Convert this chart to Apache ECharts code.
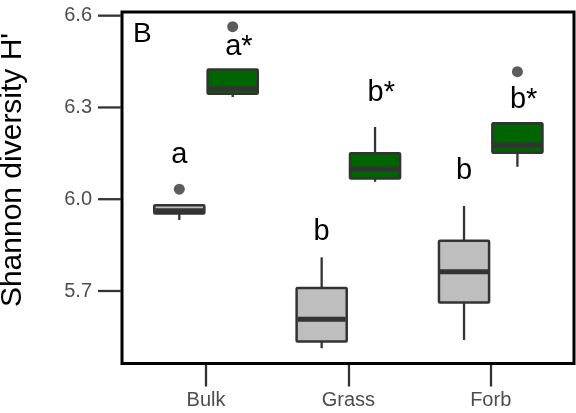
<!DOCTYPE html>
<html>
<head>
<meta charset="utf-8">
<script src="https://cdn.jsdelivr.net/npm/echarts@6/dist/echarts.min.js"></script>
<style>
html,body{margin:0;padding:0;background:#fff;}
#chart{width:576px;height:413px;}
</style>
</head>
<body>
<div id="chart"></div>
<script>
// ---- data ----
const categories = ['Bulk', 'Grass', 'Forb'];
// [min, q1, median, q3, max] per category
const grayBoxes = [
  [5.932, 5.953, 5.962, 5.980, 5.980],
  [5.513, 5.535, 5.608, 5.710, 5.810],
  [5.540, 5.662, 5.763, 5.864, 5.978]
];
const greenBoxes = [
  [6.334, 6.345, 6.361, 6.424, 6.424],
  [6.057, 6.068, 6.099, 6.150, 6.236],
  [6.106, 6.152, 6.177, 6.248, 6.248]
];
// outliers: [category index, value]
const grayOutliers = [[0, 6.033]];
const greenOutliers = [[0, 6.564], [2, 6.417]];
// significance letters and their heights
const grayLetters = ['a', 'b', 'b'];
const grayLetterY = [6.145, 5.894, 6.093];
const greenLetters = ['a*', 'b*', 'b*'];
const greenLetterY = [6.497, 6.347, 6.324];
const yTicks = [5.7, 6.0, 6.3, 6.6];
const panelLabel = 'B';
const yTitle = "Shannon diversity H'";

// ---- styling ----
const DODGE = 0.1875;
const BOX_W = 0.352;
const LINE = '#333333';
const FONT = 'Liberation Sans, Arial, Helvetica, sans-serif';
const TICK_LEN = 23;
const X_MIN = 0.2414;      // grid starts at tick start, left of the panel frame
const PANEL_X0 = 0.41;     // panel frame left edge
const X_MAX = 3.585;
const Y_MIN = 5.463, Y_MAX = 6.612;

function boxData(boxes) {
  return boxes.map((b, i) => [i + 1, b[0], b[1], b[2], b[3], b[4]]);
}
function boxRenderer(offset, fill) {
  return function (params, api) {
    const x = api.value(0) + offset;
    const lo = api.coord([x, api.value(1)]);
    const q1 = api.coord([x, api.value(2)]);
    const md = api.coord([x, api.value(3)]);
    const q3 = api.coord([x, api.value(4)]);
    const hi = api.coord([x, api.value(5)]);
    const w = api.size([BOX_W, 0])[0];
    const cx = md[0];
    return {
      type: 'group',
      children: [
        { type: 'line', shape: { x1: cx, y1: lo[1], x2: cx, y2: q1[1] }, style: { stroke: LINE, lineWidth: 2.3 } },
        { type: 'line', shape: { x1: cx, y1: q3[1], x2: cx, y2: hi[1] }, style: { stroke: LINE, lineWidth: 2.3 } },
        { type: 'rect', shape: { x: cx - w / 2, y: q3[1], width: w, height: q1[1] - q3[1], r: 1 },
          style: { fill: fill, stroke: LINE, lineWidth: 2.5 } },
        { type: 'line', shape: { x1: cx - w / 2 + 1, y1: md[1], x2: cx + w / 2 - 1, y2: md[1] },
          style: { stroke: LINE, lineWidth: 5 } }
      ]
    };
  };
}
function outlierData(list, offset) {
  return list.map(o => [o[0] + 1 + offset, o[1]]);
}
function letterData(letters, ys) {
  return letters.map((t, i) => [i + 1, ys[i], t]);
}
function letterRenderer(offset, align, dx) {
  return function (params, api) {
    const p = api.coord([api.value(0) + offset, api.value(1)]);
    return {
      type: 'text',
      x: p[0] + dx, y: p[1],
      style: {
        text: api.value(2), fill: '#000', font: '29px ' + FONT,
        align: align, verticalAlign: 'middle'
      }
    };
  };
}
function yTickRenderer(params, api) {
  const a = api.coord([api.value(0), api.value(2)]);
  const b = api.coord([api.value(1), api.value(2)]);
  return {
    type: 'line',
    shape: { x1: a[0], y1: a[1], x2: b[0] - 1, y2: b[1] },
    style: { stroke: LINE, lineWidth: 2.3 }
  };
}
function frameRenderer(params, api) {
  const tl = api.coord([api.value(0), api.value(3)]);
  const br = api.coord([api.value(1), api.value(2)]);
  return {
    type: 'rect',
    shape: { x: tl[0], y: tl[1], width: br[0] - tl[0], height: br[1] - tl[1] },
    style: { fill: 'none', stroke: '#000', lineWidth: 3 }
  };
}

const chart = echarts.init(document.getElementById('chart'), null, { renderer: 'canvas' });
chart.setOption({
  backgroundColor: '#ffffff',
  animation: false,
  grid: { left: 98, top: 12, width: 476, height: 351.5, show: false },
  xAxis: {
    type: 'value', min: X_MIN, max: X_MAX,
    splitLine: { show: false },
    axisLine: { show: false, onZero: false },
    axisTick: { show: true, length: TICK_LEN, customValues: [1, 2, 3], lineStyle: { color: LINE, width: 2.3 } },
    axisLabel: {
      customValues: [1, 2, 3], margin: 27, color: '#4d4d4d', fontSize: 20, fontFamily: FONT,
      formatter: v => categories[Math.round(v) - 1] || ''
    }
  },
  yAxis: {
    type: 'value', min: Y_MIN, max: Y_MAX,
    splitLine: { show: false },
    axisLine: { show: false, onZero: false },
    axisTick: { show: false },
    axisLabel: {
      customValues: yTicks, margin: 6, color: '#4d4d4d', fontSize: 20, fontFamily: FONT,
      formatter: v => v.toFixed(1)
    }
  },
  graphic: [
    { type: 'text', left: 133, top: 20, style: { text: panelLabel, fill: '#000', font: '28px ' + FONT } },
    { type: 'text', x: 13, y: 170, rotation: Math.PI / 2,
      style: { text: yTitle, fill: '#000', font: '30px ' + FONT, align: 'center', verticalAlign: 'middle' } }
  ],
  series: [
    { type: 'custom', renderItem: frameRenderer, data: [[PANEL_X0, X_MAX, Y_MIN, Y_MAX]], encode: { x: [0, 1], y: [2, 3] }, clip: false, silent: true, z: 6 },
    { type: 'custom', renderItem: yTickRenderer, data: yTicks.map(v => [X_MIN, PANEL_X0, v]), encode: { x: [0, 1], y: 2 }, clip: false, silent: true, z: 6 },
    { type: 'custom', renderItem: boxRenderer(-DODGE, '#BEBEBE'), data: boxData(grayBoxes), encode: { x: 0, y: [1, 2, 3, 4, 5] }, clip: false, z: 2 },
    { type: 'custom', renderItem: boxRenderer(DODGE, '#006400'), data: boxData(greenBoxes), encode: { x: 0, y: [1, 2, 3, 4, 5] }, clip: false, z: 2 },
    { type: 'scatter', data: outlierData(grayOutliers, -DODGE), symbolSize: 11, itemStyle: { color: LINE }, z: 3 },
    { type: 'scatter', data: outlierData(greenOutliers, DODGE), symbolSize: 11, itemStyle: { color: LINE }, z: 3 },
    { type: 'custom', renderItem: letterRenderer(-DODGE, 'center', 0), data: letterData(grayLetters, grayLetterY), encode: { x: 0, y: 1 }, z: 4 },
    { type: 'custom', renderItem: letterRenderer(DODGE, 'left', -7.5), data: letterData(greenLetters, greenLetterY), encode: { x: 0, y: 1 }, z: 4 }
  ]
});
</script>
</body>
</html>
